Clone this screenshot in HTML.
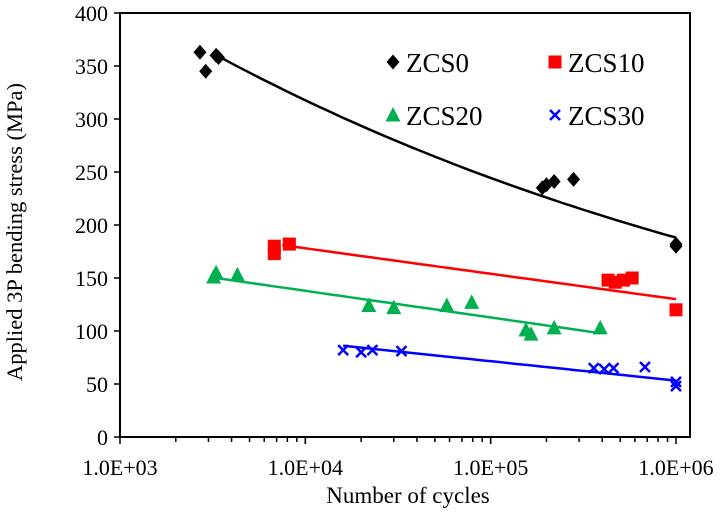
<!DOCTYPE html>
<html><head><meta charset="utf-8"><style>
body{margin:0;background:#fff;}
svg{display:block;font-family:"Liberation Serif",serif;}
</style></head><body>
<svg id="c" width="721" height="514"></svg>
<script>
const xTicks=["1.0E+03","1.0E+04","1.0E+05","1.0E+06"];
const yTicks=[0,50,100,150,200,250,300,350,400];
const zcs0N=[2.7e3,2.9e3,3.3e3,3.4e3,1.9e5,2.0e5,2.2e5,2.8e5,1e6,1e6];
const zcs0S=[363,345,360,358,235,238,241,243,180,182];
const zcs10N=[6.8e3,6.8e3,8.2e3,4.3e5,4.7e5,5.2e5,5.8e5,1e6];
const zcs10S=[173,180,182,148,146,148,150,120];
const zcs20N=[3.2e3,3.3e3,4.3e3,2.2e4,3.0e4,5.8e4,7.9e4,1.55e5,1.65e5,2.2e5,3.9e5];
const zcs20S=[151,155,153,124,122,124,127,101,97,103,103];
const zcs30N=[1.6e4,2.0e4,2.3e4,3.3e4,3.6e5,4.1e5,4.6e5,6.8e5,1e6,1e6];
const zcs30S=[82,80,82,81,65,64,65,66,48,52];
const fit0=[3.3e3,1e6,906,0.1138];
const fit10=[7.5e3,1e6,274,24];
const fit20=[3.3e3,3.9e5,238.3,25.1];
const fit30=[1.6e4,1e6,163,18.3];

const svg=document.getElementById('c');const NS='http://www.w3.org/2000/svg';
const X0=120,X1=676,Y0=437,Y1=13,RX=690;
const sx=n=>X0+(Math.log10(n)-3)/3*(X1-X0);
const sy=v=>Y0-v/400*(Y0-Y1);
function mk(t,a,p){const e=document.createElementNS(NS,t);for(const k in a)e.setAttribute(k,a[k]);(p||svg).appendChild(e);return e;}
const frame=mk('rect',{x:X0,y:Y1,width:RX-X0,height:Y0-Y1,fill:'none',stroke:'#000','stroke-width':2});


yTicks.forEach(v=>{
 const l=mk('line',{x1:X0-6,x2:X0,y1:sy(v),y2:sy(v),stroke:'#000','stroke-width':1.5});
 
 
 const t=mk('text',{x:X0-12,y:sy(v)+8,'text-anchor':'end','font-size':22});t.textContent=v;
 
 
});
for(let d=3;d<6;d++){for(let m=1;m<=10;m++){const n=m*Math.pow(10,d);const big=(m==1||m==10);
 const l=mk('line',{x1:sx(n),x2:sx(n),y1:Y0,y2:Y0+(big?7:5),stroke:'#000','stroke-width':1.5});
 
 }}
xTicks.forEach((s,i)=>{const t=mk('text',{x:sx(Math.pow(10,3+i)),y:475,'text-anchor':'middle','font-size':22});t.textContent=s;
 
 });
let t=mk('text',{x:408,y:503,'text-anchor':'middle','font-size':23});t.textContent='Number of cycles';


t=mk('text',{x:0,y:0,'text-anchor':'middle','font-size':22.5,transform:'translate(22,232) rotate(-90)'});t.textContent='Applied 3P bending stress (MPa)';


function line(f,col,pow,name){let pts=[];for(let i=0;i<=40;i++){const lg=Math.log10(f[0])+(Math.log10(f[1])-Math.log10(f[0]))*i/40;const n=Math.pow(10,lg);
 const v=pow?f[2]*Math.pow(n,-f[3]):f[2]-f[3]*lg;pts.push(sx(n).toFixed(1)+','+sy(v).toFixed(1));}
 const p=mk('polyline',{points:pts.join(' '),fill:'none',stroke:col,'stroke-width':2.5});
 
 }
line(fit0,'#000',true,'zcs0-trend');line(fit10,'#f00',false,'zcs10-trend');line(fit20,'#00b050',false,'zcs20-trend');line(fit30,'#00f',false,'zcs30-trend');
function marker(kind,x,y,col){
 if(kind=='d')return mk('polygon',{points:`${x},${y-7.5} ${x+6.5},${y} ${x},${y+7.5} ${x-6.5},${y}`,fill:col});
 if(kind=='s')return mk('rect',{x:x-6.5,y:y-6.5,width:13,height:13,fill:col});
 if(kind=='t')return mk('polygon',{points:`${x},${y-8} ${x+7.5},${y+6.5} ${x-7.5},${y+6.5}`,fill:col});
 return mk('path',{d:`M${x-5},${y-5}L${x+5},${y+5}M${x+5},${y-5}L${x-5},${y+5}`,stroke:col,'stroke-width':2.5});}
function series(N,S,kind,col,name){N.forEach((n,i)=>{const m=marker(kind,sx(n),sy(S[i]),col);
 
 });}
series(zcs0N,zcs0S,'d','#000','zcs0-point');series(zcs10N,zcs10S,'s','#f00','zcs10-point');
series(zcs20N,zcs20S,'t','#00b050','zcs20-point');series(zcs30N,zcs30S,'x','#00f','zcs30-point');
[['d','#000','ZCS0',393,62],['s','#f00','ZCS10',555,62],['t','#00b050','ZCS20',393,115],['x','#00f','ZCS30',555,115]].forEach(e=>{
 const m=marker(e[0],e[3],e[4],e[1]);
 
 
 const tx=mk('text',{x:e[3]+13,y:e[4]+10,'font-size':27});tx.textContent=e[2];
 
 });
</script>
</body></html>
